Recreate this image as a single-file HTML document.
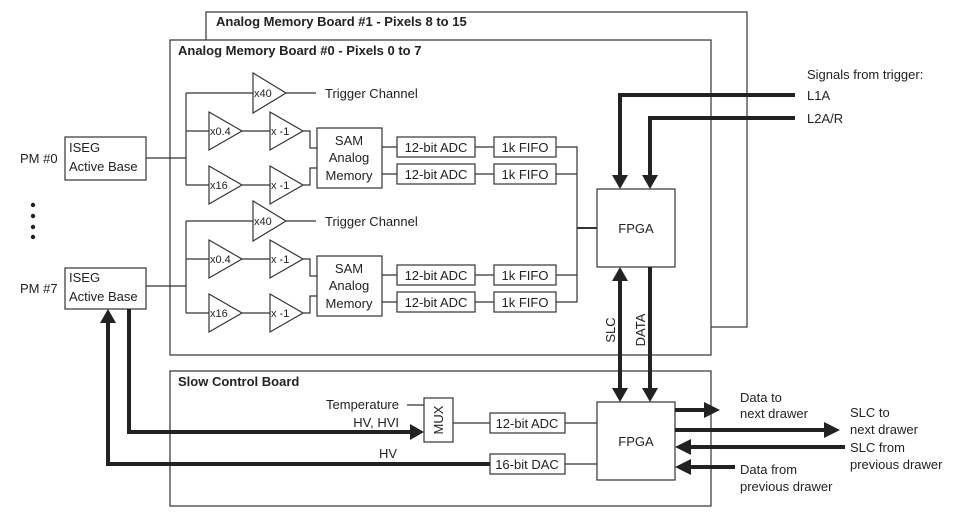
<!DOCTYPE html>
<html><head><meta charset="utf-8"><style>
body{margin:0;background:#fff}
svg{display:block}
text{font-family:"Liberation Sans",sans-serif;font-size:13px;fill:#222}
.b{font-weight:bold;font-size:13px}
.s{font-size:11px}
</style></head><body>
<svg width="969" height="517" viewBox="0 0 969 517" xmlns="http://www.w3.org/2000/svg">
<defs>
<g id="ch" fill="#fff" stroke="#333" stroke-width="1.2">
  <path d="M146,158 H186 M186,93 V185 M186,93 H253 M186,131 H209 M186,185 H209 M242,131 H270 M242,185 H270" fill="none"/>
  <path d="M303,131 H310 V148 H317 M303,185 H310 V168 H317" fill="none"/>
  <path d="M286,93 H316" fill="none"/>
  <polygon points="253,73 253,113 286,93"/>
  <polygon points="209,112 209,150 242,131"/>
  <polygon points="209,166 209,204 242,185"/>
  <polygon points="270,112 270,150 303,131"/>
  <polygon points="270,166 270,204 303,185"/>
  <rect x="317" y="128" width="65" height="60"/>
  <path d="M382,147 H397 M382,174 H397 M475,147 H494 M475,174 H494" fill="none"/>
  <rect x="397" y="137" width="78" height="20"/>
  <rect x="397" y="164" width="78" height="20"/>
  <rect x="494" y="137" width="62" height="20"/>
  <rect x="494" y="164" width="62" height="20"/>
  <g stroke="none" fill="#222">
  <text x="254" y="97" class="s">x40</text>
  <text x="325" y="98">Trigger Channel</text>
  <text x="210" y="135" class="s">x0.4</text>
  <text x="210" y="189" class="s">x16</text>
  <text x="271" y="135" class="s">x -1</text>
  <text x="271" y="189" class="s">x -1</text>
  <text x="349" y="145" text-anchor="middle">SAM</text>
  <text x="349" y="162" text-anchor="middle">Analog</text>
  <text x="349" y="180" text-anchor="middle">Memory</text>
  <text x="436" y="152" text-anchor="middle">12-bit ADC</text>
  <text x="436" y="179" text-anchor="middle">12-bit ADC</text>
  <text x="525" y="152" text-anchor="middle">1k FIFO</text>
  <text x="525" y="179" text-anchor="middle">1k FIFO</text>
  </g>
</g>
</defs>
<g fill="#fff" stroke="#333" stroke-width="1.2">
<rect x="206" y="12" width="541" height="315"/>
<rect x="170" y="40" width="541" height="315"/>
<rect x="170" y="371" width="541" height="135"/>
<rect x="65" y="137" width="81" height="43"/>
<rect x="65" y="268" width="81" height="41"/>
</g>
<text x="216" y="26" class="b">Analog Memory Board #1 - Pixels 8 to 15</text>
<text x="178" y="55" class="b">Analog Memory Board #0 - Pixels 0 to 7</text>
<text x="178" y="386" class="b">Slow Control Board</text>
<text x="69" y="152">ISEG</text><text x="69" y="171">Active Base</text>
<text x="69" y="282">ISEG</text><text x="69" y="301">Active Base</text>
<text x="20" y="163">PM #0</text><text x="20" y="293">PM #7</text>
<g fill="#222"><circle cx="33" cy="205" r="2.2"/><circle cx="33" cy="216" r="2.2"/><circle cx="33" cy="227" r="2.2"/><circle cx="33" cy="237" r="2.2"/></g>
<use href="#ch"/>
<use href="#ch" transform="translate(0,128)"/>
<g fill="none" stroke="#333" stroke-width="1.2">
<path d="M556,147 H577 V302 H556 M556,174 H577 M556,275 H577"/>
<path d="M577,228 H597" stroke-width="2"/>
<rect x="597" y="189" width="78" height="78" fill="#fff"/>
<rect x="597" y="402" width="78" height="78" fill="#fff"/>
<rect x="424" y="398" width="29" height="44" fill="#fff"/>
<rect x="490" y="413" width="75" height="20" fill="#fff"/>
<rect x="490" y="454" width="75" height="20" fill="#fff"/>
<path d="M407,405 H424 M453,423 H490 M565,423 H597 M565,464 H597"/>
</g>
<text x="636" y="233" text-anchor="middle">FPGA</text>
<text x="636" y="446" text-anchor="middle">FPGA</text>
<text x="527" y="428" text-anchor="middle">12-bit ADC</text>
<text x="527" y="469" text-anchor="middle">16-bit DAC</text>
<text x="443" y="420" text-anchor="middle" transform="rotate(-90 443 420)">MUX</text>
<text x="399" y="409" text-anchor="end" font-size="12">Temperature</text>
<text x="399" y="427" text-anchor="end" font-size="12">HV, HVI</text>
<text x="379" y="458">HV</text>
<text x="615" y="330" text-anchor="middle" transform="rotate(-90 615 330)">SLC</text>
<text x="645" y="330" text-anchor="middle" transform="rotate(-90 645 330)">DATA</text>
<text x="807" y="79">Signals from trigger:</text>
<text x="807" y="100">L1A</text>
<text x="807" y="123">L2A/R</text>
<text x="740" y="402">Data to</text><text x="740" y="418">next drawer</text>
<text x="850" y="417">SLC to</text><text x="850" y="434">next drawer</text>
<text x="850" y="452">SLC from</text><text x="850" y="469">previous drawer</text>
<text x="740" y="474">Data from</text><text x="740" y="491">previous drawer</text>
<g fill="none" stroke="#222" stroke-width="4">
<path d="M795,95 H620 V176"/>
<path d="M795,118 H650 V176"/>
<path d="M620,280 V389"/>
<path d="M650,267 V389"/>
<path d="M129,309 V432 H411"/>
<path d="M490,464 H108 V322"/>
<path d="M675,410 H705"/>
<path d="M675,430 H825"/>
<path d="M845,447 H690"/>
<path d="M735,467 H690"/>
</g>
<g fill="#222">
<polygon points="612,175 628,175 620,189"/>
<polygon points="642,175 658,175 650,189"/>
<polygon points="612,281 628,281 620,267"/>
<polygon points="612,388 628,388 620,402"/>
<polygon points="642,388 658,388 650,402"/>
<polygon points="410,424 410,440 424,432"/>
<polygon points="100,323 116,323 108,309"/>
<polygon points="704,402 704,418 720,410"/>
<polygon points="824,422 824,438 840,430"/>
<polygon points="691,439 691,455 675,447"/>
<polygon points="691,459 691,475 675,467"/>
</g>
</svg>
</body></html>
